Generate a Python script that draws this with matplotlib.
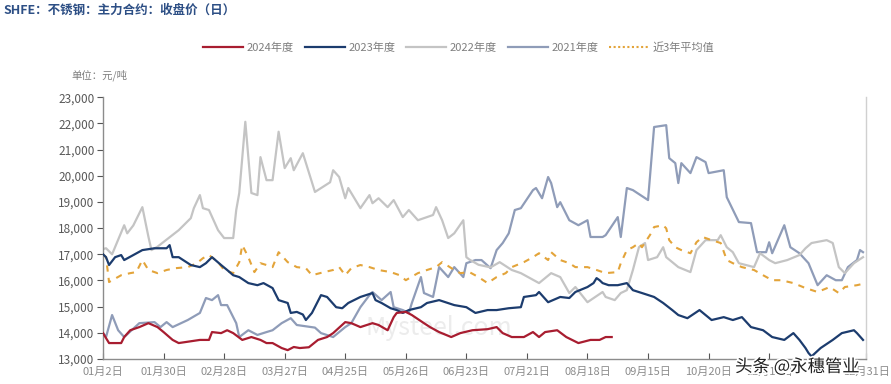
import matplotlib
matplotlib.use("Agg")
import matplotlib.pyplot as plt
import matplotlib.patheffects as pe
import numpy as np

plt.rcParams['font.family'] = ['Noto Sans CJK SC', 'DejaVu Sans']

# 交易日序号 -> 收盘价（元/吨）
d2024 = [0, 2, 6, 7, 9, 12, 15, 18, 20, 23, 25, 32, 35, 36, 39, 41, 43, 46, 49, 52, 54, 56,
         59, 61, 63, 65, 68, 71, 74, 76, 78, 80, 82, 85, 89, 91, 94, 96, 97, 100, 102, 106,
         108, 111, 115, 118, 122, 127, 130, 132, 135, 139, 142, 144, 146, 150, 153, 157,
         161, 164, 166, 168]
v2024 = [13990, 13610, 13610, 13840, 14100, 14220, 14370, 14220, 14030, 13730, 13610, 13730,
         13730, 14030, 13990, 14100, 13990, 13730, 13840, 13730, 13610, 13610, 13420, 13340,
         13460, 13420, 13450, 13730, 13840, 13990, 14200, 14410, 14370, 14220, 14370, 14300,
         14100, 14600, 14760, 14800, 14680, 14370, 14220, 14030, 13840, 13990, 14100, 14140,
         14220, 13990, 13840, 13840, 14030, 13840, 14030, 14100, 13840, 13610, 13730, 13730,
         13840, 13840]

d2023 = [0, 1, 2, 4, 6, 7, 10, 13, 17, 21, 22, 23, 25, 29, 32, 34, 36, 39, 41, 43, 45, 48,
         51, 53, 56, 58, 61, 62, 64, 66, 67, 69, 72, 74, 77, 79, 81, 85, 89, 90, 92, 95, 97,
         99, 101, 105, 107, 111, 116, 120, 123, 127, 130, 134, 138, 139, 143, 144, 147, 151,
         154, 156, 160, 162, 163, 164, 165, 167, 170, 173, 175, 178, 182, 185, 188, 190, 193,
         197, 201, 205, 208, 211, 214, 218, 221, 225, 228, 230, 232, 233, 234, 237, 241, 244,
         248, 249, 251]
v2023 = [17000, 16890, 16590, 16890, 16970, 16780, 16970, 17160, 17230, 17230, 17350, 16890,
         16890, 16590, 16510, 16660, 16890, 16590, 16400, 16200, 16130, 15900, 15820, 15900,
         15710, 15250, 15140, 14760, 14800, 14700, 14490, 14760, 15440, 15370, 14980, 14940,
         15140, 15370, 15520, 15250, 15140, 14940, 14870, 14760, 14870, 14980, 15140, 15250,
         15060, 14980, 14760, 14870, 14870, 14940, 14980, 15370, 15440, 15560, 15170, 15370,
         15330, 15560, 15750, 15900, 16090, 16010, 15900, 15820, 15820, 15900, 15630, 15520,
         15370, 15140, 14870, 14680, 14560, 14870, 14490, 14600, 14490, 14600, 14220, 14100,
         13840, 13730, 13990, 13730, 13420, 13230, 13100, 13420, 13730, 13990, 14100, 13990,
         13730]

d2022 = [0, 1, 3, 7, 8, 10, 13, 15, 16, 18, 25, 29, 30, 32, 33, 35, 38, 40, 43, 44, 45, 47,
         49, 51, 52, 54, 56, 58, 60, 62, 63, 66, 70, 75, 76, 78, 80, 81, 85, 88, 89, 91, 94,
         96, 99, 101, 104, 109, 110, 112, 114, 116, 119, 120, 121, 124, 128, 131, 135, 138,
         144, 148, 151, 154, 156, 160, 165, 166, 169, 171, 173, 175, 177, 179, 180, 183, 185,
         186, 190, 194, 196, 199, 203, 204, 206, 208, 210, 215, 217, 220, 222, 226, 230, 232,
         234, 239, 241, 243, 245, 248, 251]
v2022 = [17200, 17230, 17000, 18110, 17800, 18100, 18800, 17670, 17160, 17290, 17920, 18380,
         18760, 19260, 18760, 18690, 17920, 17620, 17620, 18690, 19340, 22060, 19340, 19260,
         20710, 19830, 19830, 21680, 20290, 20670, 20210, 20860, 19380, 19750, 20210, 19950,
         19140, 19530, 18760, 19260, 18950, 19140, 18800, 19070, 18420, 18690, 18300, 18500,
         18800, 18300, 17620, 17800, 18300, 16890, 16800, 16600, 16500, 16700, 16400, 16280,
         15900, 16280, 16130, 15520, 15750, 15170, 15560, 15370, 15250, 15520, 15630, 16400,
         17270, 17430, 16780, 16890, 17270, 16890, 16510, 16320, 17160, 17540, 17540, 17730,
         17270, 17080, 16660, 16510, 17040, 16780, 16660, 16780, 16970, 17230, 17430, 17540,
         17430, 16510, 16280, 16660, 16890]

d2021 = [0, 1, 3, 5, 7, 12, 17, 19, 21, 23, 28, 32, 34, 36, 38, 39, 41, 44, 45, 48, 51, 54,
         56, 59, 62, 64, 67, 70, 72, 76, 80, 82, 85, 88, 89, 92, 95, 96, 99, 101, 102, 105,
         106, 109, 111, 114, 116, 119, 120, 123, 125, 128, 130, 132, 134, 136, 138, 142, 143,
         145, 147, 148, 150, 151, 154, 157, 160, 161, 165, 166, 170, 171, 173, 175, 180, 182,
         186, 187, 189, 190, 191, 194, 196, 199, 200, 205, 206, 210, 214, 216, 219, 220, 221,
         225, 227, 230, 233, 236, 239, 242, 244, 246, 249, 250, 251]
v2021 = [14000, 13840, 14680, 14100, 13840, 14370, 14410, 14220, 14410, 14220, 14490, 14760,
         15330, 15250, 15440, 15060, 15060, 14370, 13840, 14100, 13920, 14030, 14100, 14370,
         14560, 14300, 14250, 14200, 13990, 13840, 14220, 14370, 14980, 15440, 15560, 15250,
         15560, 14980, 14870, 14760, 15140, 16130, 15520, 15370, 16510, 16130, 16510, 16130,
         16660, 16780, 16780, 16470, 17160, 17430, 17800, 18690, 18760, 19450, 19530, 19140,
         19950, 19720, 18800, 18990, 18300, 18110, 18300, 17660, 17660, 17730, 18420, 17660,
         19530, 19450, 19070, 21860, 21930, 20670, 20480, 19720, 20480, 20100, 20710, 20520,
         20100, 20210, 19180, 18230, 18190, 17080, 17080, 17460, 17040, 18110, 17270, 17040,
         16660, 15820, 16200, 16010, 16010, 16510, 16780, 17160, 17080]

d_avg = [0, 1, 2, 6, 9, 11, 13, 15, 18, 21, 24, 28, 31, 33, 35, 38, 40, 43, 45, 46, 48, 50,
         52, 54, 56, 58, 61, 64, 67, 69, 73, 76, 78, 80, 82, 85, 88, 91, 95, 98, 100, 104,
         107, 110, 112, 116, 118, 121, 124, 127, 130, 133, 135, 139, 142, 144, 147, 148, 151,
         154, 156, 160, 163, 166, 170, 171, 173, 175, 177, 178, 181, 182, 185, 186, 187, 189,
         191, 194, 196, 198, 201, 204, 206, 208, 211, 215, 218, 221, 224, 228, 232, 236, 240,
         243, 245, 249, 252]
v_avg = [17000, 16890, 15940, 16200, 16280, 16320, 16780, 16400, 16280, 16400, 16470, 16510,
         16660, 16850, 16970, 16700, 16400, 16280, 16700, 17350, 16890, 16320, 16660, 16590,
         16510, 17080, 16700, 16510, 16470, 16200, 16320, 16400, 16510, 16200, 16470, 16590,
         16510, 16400, 16320, 16200, 16010, 16280, 16400, 16510, 16700, 16400, 16280, 16320,
         16130, 15900, 16130, 16280, 16510, 16700, 16890, 17040, 16780, 17080, 16780, 16660,
         16510, 16510, 16400, 16280, 16320, 16660, 17160, 17270, 17430, 17270, 17800, 18040,
         18110, 17990, 17540, 17270, 17160, 17040, 17460, 17660, 17540, 17430, 16780, 16660,
         16510, 16400, 16200, 16010, 16010, 15900, 15710, 15560, 15750, 15520, 15750, 15820,
         15900]

tick_pos = [0, 20, 40, 60, 80, 100, 120, 140, 160, 180, 200, 220, 252]
tick_lab = ["01月2日", "01月30日", "02月28日", "03月27日", "04月25日", "05月26日", "06月23日",
            "07月21日", "08月18日", "09月15日", "10月20日", "11月17日", "12月31日"]

fig = plt.figure(figsize=(8.91, 3.84), dpi=100)
ax = fig.add_axes([0.1156, 0.065, 0.8564, 0.682])

l21, = ax.plot(d2021, v2021, color="#8f9cb8", lw=1.6, label="2021年度", zorder=2)
l22, = ax.plot(d2022, v2022, color="#c4c4c4", lw=1.6, label="2022年度", zorder=2)
lav, = ax.plot(d_avg, v_avg, color="#e3a43a", lw=1.5, ls=(0, (1, 1.2)), label="近3年平均值", zorder=3)
l23, = ax.plot(d2023, v2023, color="#1c3c6e", lw=1.6, label="2023年度", zorder=4)
l24, = ax.plot(d2024, v2024, color="#a81d30", lw=1.6, label="2024年度", zorder=5)

ax.set_xlim(0, 252)
ax.set_ylim(13000, 23000)
ax.set_yticks(np.arange(13000, 23001, 1000))
ax.set_yticklabels([f"{v:,}" for v in range(13000, 23001, 1000)])
ax.set_xticks(tick_pos)
ax.set_xticklabels(tick_lab)

for s in ["left", "bottom", "right"]:
    ax.spines[s].set_color("#8c8c8c")
    ax.spines[s].set_linewidth(1.0)
ax.spines["right"].set_color("#d0d0d0")
ax.spines["top"].set_visible(False)
ax.tick_params(axis="y", direction="out", length=4, color="#555555", labelsize=8.5,
               labelcolor="#595959", pad=2)
ax.tick_params(axis="x", direction="in", length=4, color="#555555", labelsize=8,
               labelcolor="#8c8c8c", pad=6)

leg_handles = [l24, l23, l22, l21, lav]
fig.legend(leg_handles, [h.get_label() for h in leg_handles], loc="center",
           bbox_to_anchor=(0.515, 0.877), ncol=5, frameon=False, fontsize=8,
           handlelength=3.6, columnspacing=1.0, handletextpad=0.3, labelcolor="#7f7f7f")
lav.set_dashes([3, 3])

fig.text(0.004, 0.973, "SHFE：不锈钢：主力合约：收盘价（日）", fontsize=9, color="#2d4f85",
         fontweight="bold", va="center", ha="left")
fig.text(0.08, 0.805, "单位：元/吨", fontsize=7.5, color="#7f7f7f", va="center", ha="left")

# 水印
ax.text(0.44, 0.12, "Mysteel.com", transform=ax.transAxes, fontsize=18, color="#ececec",
        ha="center", va="center", zorder=1)
fig.text(0.895, 0.045, "头条 @永穗管业", fontsize=12.5, color="#222222", ha="center",
         va="center", path_effects=[pe.withStroke(linewidth=2.5, foreground="white")])

fig.savefig("out.png", dpi=100)
